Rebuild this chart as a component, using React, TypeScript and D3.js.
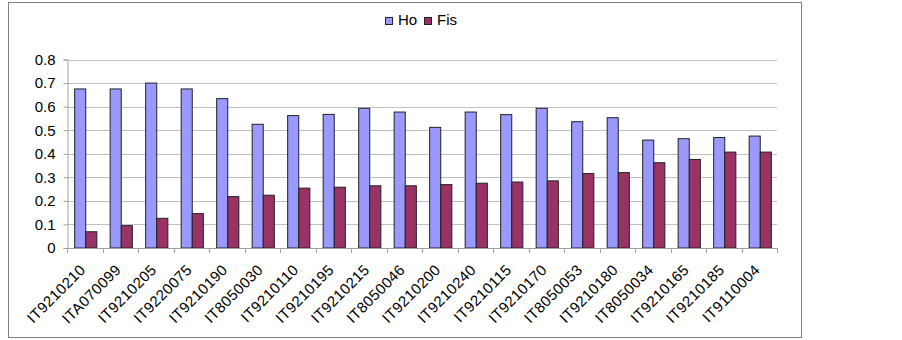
import { useEffect, useRef } from 'react';
import * as d3 from 'd3';

const categories = [
  'IT9210210', 'ITA070099', 'IT9210205', 'IT9220075', 'IT9210190',
  'IT8050030', 'IT9210110', 'IT9210195', 'IT9210215', 'IT8050046',
  'IT9210200', 'IT9210240', 'IT9210115', 'IT9210170', 'IT8050053',
  'IT9210180', 'IT8050034', 'IT9210165', 'IT9210185', 'IT9110004',
];
const hoValues = [
  0.675, 0.675, 0.70, 0.675, 0.634, 0.525, 0.562, 0.567, 0.593, 0.577,
  0.512, 0.577, 0.566, 0.593, 0.536, 0.553, 0.458, 0.464, 0.469, 0.475,
];
const fisValues = [
  0.069, 0.095, 0.126, 0.146, 0.218, 0.224, 0.254, 0.258, 0.264, 0.264,
  0.269, 0.275, 0.280, 0.285, 0.316, 0.320, 0.362, 0.376, 0.407, 0.407,
];
const seriesNames = ['Ho', 'Fis'];
const yTicks = [0, 0.1, 0.2, 0.3, 0.4, 0.5, 0.6, 0.7, 0.8];

const colors: Record<string, string> = {
  Ho: '#9999FF',
  Fis: '#993366',
};

const App = () => {
  const ref = useRef<SVGSVGElement | null>(null);

  useEffect(() => {
    if (!ref.current) return;
    const svg = d3.select(ref.current);
    svg.selectAll('*').remove();

    const font = 'Liberation Sans, Arial, sans-serif';
    const left = 67, right = 777, top = 59.5, bottom = 248;

    // outer frame
    svg.append('rect')
      .attr('x', 8.5).attr('y', 2.5)
      .attr('width', 793).attr('height', 335)
      .attr('fill', 'white')
      .attr('stroke', '#808080');

    const x = d3.scaleBand<string>()
      .domain(categories)
      .range([left, right]);
    const inner = d3.scaleBand<string>()
      .domain(seriesNames)
      .range([0, x.bandwidth()])
      .paddingInner(0)
      .paddingOuter(0.6);
    const y = d3.scaleLinear().domain([0, 0.8]).range([bottom, top]);

    // grid
    svg.append('g')
      .selectAll('line')
      .data(yTicks.filter(t => t > 0))
      .enter()
      .append('line')
      .attr('x1', left).attr('x2', right)
      .attr('y1', d => Math.round(y(d)) + 0.5)
      .attr('y2', d => Math.round(y(d)) + 0.5)
      .attr('stroke', '#c0c0c0');

    // y axis
    const yAxis = svg.append('g')
      .attr('transform', `translate(${left + 0.5},0)`)
      .call(d3.axisLeft(y).tickValues(yTicks).tickSize(4).tickPadding(8)
        .tickFormat(d => d3.format('')(+d)));
    yAxis.select('.domain').attr('stroke', '#a0a0a0');
    yAxis.selectAll('.tick line').attr('stroke', '#a0a0a0');
    yAxis.selectAll('text')
      .attr('fill', 'black')
      .style('font-family', font)
      .style('font-size', '15px');

    // bars
    const data = categories.map((c, i) => ({ cat: c, Ho: hoValues[i], Fis: fisValues[i] }));
    const groups = svg.append('g')
      .selectAll('g')
      .data(data)
      .enter()
      .append('g')
      .attr('transform', d => `translate(${x(d.cat)},0)`);
    groups.selectAll('rect')
      .data(d => seriesNames.map(s => ({ s, v: (d as any)[s] as number })))
      .enter()
      .append('rect')
      .attr('x', d => inner(d.s)! + 1)
      .attr('y', d => y(d.v))
      .attr('width', inner.bandwidth())
      .attr('height', d => bottom - y(d.v))
      .attr('fill', d => colors[d.s])
      .attr('stroke', '#222')
      .attr('stroke-width', 1);

    // x axis
    const xAxisG = svg.append('g');
    xAxisG.append('line')
      .attr('x1', left).attr('x2', right)
      .attr('y1', bottom + 0.5).attr('y2', bottom + 0.5)
      .attr('stroke', '#a0a0a0');
    xAxisG.selectAll('line.tk')
      .data(d3.range(categories.length + 1))
      .enter()
      .append('line')
      .attr('class', 'tk')
      .attr('x1', i => Math.round(left + i * x.step()) + 0.5)
      .attr('x2', i => Math.round(left + i * x.step()) + 0.5)
      .attr('y1', bottom).attr('y2', bottom + 5)
      .attr('stroke', '#a0a0a0');
    xAxisG.selectAll('text')
      .data(categories)
      .enter()
      .append('text')
      .attr('transform', d => `translate(${x(d)! + x.bandwidth() / 2 - 2},${bottom + 19}) rotate(-45)`)
      .attr('text-anchor', 'end')
      .attr('dy', '0.35em')
      .style('font-family', font)
      .style('font-size', '15px')
      .style('letter-spacing', '0.4px')
      .text(d => d);

    // legend
    const legend = svg.append('g');
    const lx = [385, 424];
    seriesNames.forEach((s, i) => {
      legend.append('rect')
        .attr('x', lx[i] + 0.5).attr('y', 17.5)
        .attr('width', 7).attr('height', 7)
        .attr('fill', colors[s])
        .attr('stroke', '#222');
      legend.append('text')
        .attr('x', lx[i] + 13).attr('y', 25)
        .style('font-family', font)
        .style('font-size', '15px')
        .text(s);
    });
  }, []);

  return (
    <svg ref={ref} width={902} height={340}
      style={{ position: 'absolute', left: 0, top: 0, background: 'white' }} />
  );
};

export default App;
